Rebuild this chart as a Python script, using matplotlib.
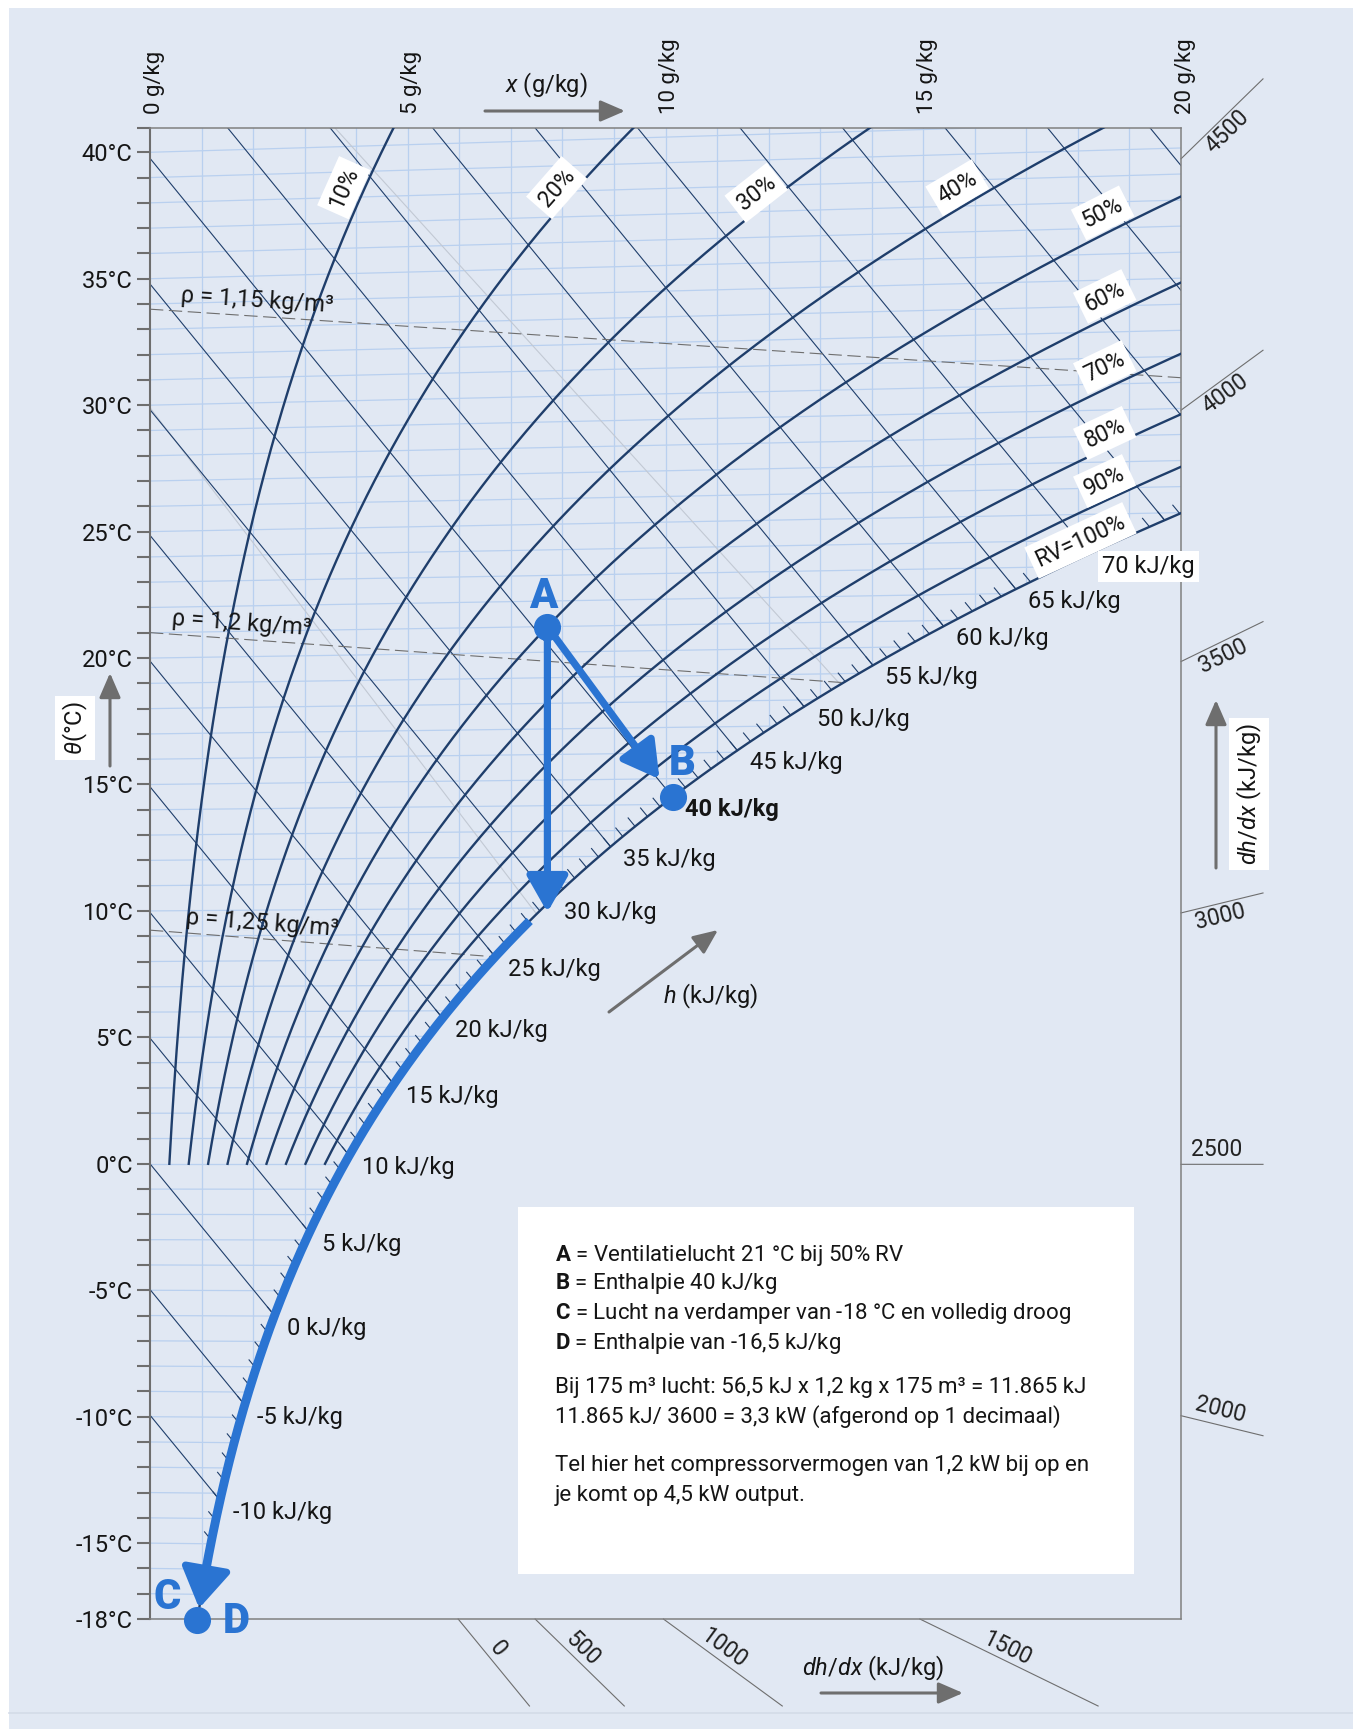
import numpy as np
import matplotlib
matplotlib.use("Agg")
import matplotlib.pyplot as plt
from matplotlib.patches import Rectangle
from matplotlib.lines import Line2D

plt.rcParams['font.family'] = ['Roboto', 'DejaVu Sans']
plt.rcParams['mathtext.fontset'] = 'custom'
plt.rcParams['mathtext.rm'] = 'Roboto'
plt.rcParams['mathtext.it'] = 'Roboto:italic'
plt.rcParams['mathtext.bf'] = 'Roboto:bold'

W, H, DPI = 1353, 1729, 100

# ---------------- chart values ----------------
rh_levels = [10, 20, 30, 40, 50, 60, 70, 80, 90, 100]
rh_texts = ["10%", "20%", "30%", "40%", "50%", "60%", "70%", "80%", "90%", "RV=100%"]
rh_label_x = [3.76, 7.89, 11.76, 15.66, 18.48, 18.52, 18.52, 18.52, 18.52, 18.05]
rh_label_y = [38.6, 38.6, 38.4, 38.6, 37.6, 34.3, 31.5, 28.9, 27.0, 24.65]

enthalpy_lines = [-10, -5, 0, 5, 10, 15, 20, 25, 30, 35, 40, 45,
                  50, 55, 60, 65, 70, 75, 80, 85, 90]
enthalpy_labels = [70, 65, 60, 55, 50, 45, 40, 35, 30, 25, 20, 15, 10, 5, 0, -5, -10]
enthalpy_hatch = list(range(-12, 77))

density_levels = [1.15, 1.20, 1.25]
density_texts = ["ρ = 1,15 kg/m³", "ρ = 1,2 kg/m³", "ρ = 1,25 kg/m³"]
density_label_x = [0.58, 0.41, 0.68]

# faint auxiliary lines: start (x g/kg, level) and slope per g/kg
aux_start_x = [3.59, 0.0]
aux_start_y = [40.96, 29.9]
aux_slope = [-2.245, -2.67]

temp_major = [40, 35, 30, 25, 20, 15, 10, 5, 0, -5, -10, -15, -18]
temp_minor = list(range(-18, 41))
x_ticks = [0, 5, 10, 15, 20]

dhdx_right = [4500, 4000, 3500, 3000, 2500, 2000]
dhdx_right_side = [-1, -1, -1, -1, 1, 1]
dhdx_bottom = [0, 500, 1000, 1500]
bottom_pole = -3.14

theta_A, rh_A = 21.0, 50
h_B = 40.0
theta_C = -18.0
theta_curve_start = 9.5

legend_lines = [
    r"$\mathbf{A}$ = Ventilatielucht 21 °C bij 50% RV",
    r"$\mathbf{B}$ = Enthalpie 40 kJ/kg",
    r"$\mathbf{C}$ = Lucht na verdamper van -18 °C en volledig droog",
    r"$\mathbf{D}$ = Enthalpie van -16,5 kJ/kg",
    "Bij 175 m³ lucht: 56,5 kJ x 1,2 kg x 175 m³ = 11.865 kJ",
    "11.865 kJ/ 3600 = 3,3 kW (afgerond op 1 decimaal)",
    "Tel hier het compressorvermogen van 1,2 kW bij op en",
    "je komt op 4,5 kW output.",
]
legend_y = [1255, 1284, 1313, 1343, 1387, 1417, 1466, 1495]

# ---------------- colours ----------------
BG = '#e1e8f3'
GRID = '#b9d0ef'
NAVY = '#1f3e6b'
BLUE = '#2a74d2'
GRAY = '#6e6e6e'
AXG = '#808080'
INK = '#151515'

# ---------------- psychrometrics ----------------
P = 101.325
K = 0.0015


def p_sat(t):
    return 0.6112 * np.exp(17.62 * t / (243.12 + t))


def x_of(t, phi):
    ps = phi * p_sat(t)
    return 622.0 * ps / (P - ps)


def h_of(t, x):
    return 1.006 * t + x * (2.501 + 0.00186 * t)


def t_of_hx(h, x):
    return (h - 2.501 * x) / (1.006 + 0.00186 * x)


def Y(t, x):
    return t * (1 + K * x)


tt = np.linspace(-30, 50, 8001)
xs_sat = x_of(tt, 1.0)
hs_sat = h_of(tt, xs_sat)


def sat_t_from_h(h):
    return np.interp(h, hs_sat, tt)


def dew_t(x):
    return np.interp(x, xs_sat, tt)


# ---------------- figure ----------------
fig = plt.figure(figsize=(W / DPI, H / DPI), dpi=DPI, facecolor='white')
fig.add_artist(Rectangle((9 / W, 0), 1, (H - 8) / H, transform=fig.transFigure,
                         facecolor=BG, edgecolor='none', zorder=-10))
fig.add_artist(Line2D([9 / W, 1], [(H - 1713) / H] * 2, transform=fig.transFigure,
                      color='#d3dbe7', lw=1.2, zorder=-9))

L, R, T, B = 150, 1181, 128, 1619
ax = fig.add_axes([L / W, (H - B) / H, (R - L) / W, (B - T) / H])
YTOP = 40.96
ax.set_xlim(0, 20)
ax.set_ylim(-18, YTOP)
ax.patch.set_visible(False)

for side in ['top', 'right', 'bottom']:
    ax.spines[side].set_color(AXG)
    ax.spines[side].set_linewidth(1.1)
ax.spines['left'].set_color(GRAY)
ax.spines['left'].set_linewidth(1.5)

ax.set_xticks([])
ax.set_yticks(temp_major)
ax.set_yticklabels([f"{t}°C" for t in temp_major], fontsize=17, color=INK)
ax.set_yticks(temp_minor + [YTOP], minor=True)
ax.tick_params(axis='y', which='both', direction='out', length=9.5, width=1.5,
               color=GRAY, pad=3)

# grid: isotherms and vertical humidity lines (only in unsaturated region)
for t in range(-18, 42):
    xe = min(20.0, float(x_of(t, 1.0)))
    xx = np.linspace(0, xe, 60)
    ax.plot(xx, Y(t, xx), color=GRID, lw=0.9, zorder=1)
for k in range(1, 20):
    td = dew_t(k)
    ax.plot([k, k], [Y(td, k), YTOP + 1], color=GRID, lw=0.9, zorder=1)

# faint auxiliary lines ending on the saturation curve
for x0, y0, m in zip(aux_start_x, aux_start_y, aux_slope):
    xx = np.linspace(x0, 20, 800)
    yy = y0 + m * (xx - x0)
    tsat = dew_t(xx)
    ok = yy >= Y(tsat, xx)
    ax.plot(xx[ok], yy[ok], color='#c2c9d4', lw=0.8, zorder=1.5)

# enthalpy lines
for h in enthalpy_lines:
    ts = sat_t_from_h(h)
    xe = float(x_of(ts, 1.0))
    xx = np.linspace(0, xe, 120)
    ax.plot(xx, Y(t_of_hx(h, xx), xx), color=NAVY, lw=0.8, zorder=2)

# hatch marks along saturation
for h in enthalpy_hatch:
    ts = sat_t_from_h(h)
    xe = float(x_of(ts, 1.0))
    xx = np.array([xe - 0.135, xe])
    ax.plot(xx, Y(t_of_hx(h, xx), xx), color=NAVY, lw=0.8, zorder=2)

# density lines
Rd = 287.05
xg = np.linspace(0, 20, 600)
for rho, txt, lx in zip(density_levels, density_texts, density_label_x):
    Tc = P * 1000 * (1 + xg / 1000) / (Rd * rho * (1 + 1.608 * xg / 1000)) - 273.15
    ok = Tc >= dew_t(xg)
    xd, yd = xg[ok], Y(Tc[ok], xg[ok])
    ax.plot(xd, yd, color=GRAY, lw=0.8, ls=(0, (12, 5)), zorder=2)
    ly = np.interp(lx, xd, yd)
    p0 = ax.transData.transform((xd[0], yd[0]))
    p1 = ax.transData.transform((xd[40], yd[40]))
    ang = np.degrees(np.arctan2(p1[1] - p0[1], p1[0] - p0[0]))
    ax.annotate(txt, xy=(lx, ly), xytext=(0, 3), textcoords='offset points',
                ha='left', va='bottom', fontsize=17, rotation=ang,
                rotation_mode='anchor', color=INK, zorder=4)

# relative humidity curves
curves = {}
for phi in rh_levels:
    t0 = 0.0 if phi < 100 else -18.0
    t = np.linspace(t0, 48, 800)
    x = x_of(t, phi / 100)
    yy = Y(t, x)
    curves[phi] = (x, yy)
    ax.plot(x, yy, color=NAVY, lw=1.7, zorder=3)

for phi, txt, lx, ly in zip(rh_levels, rh_texts, rh_label_x, rh_label_y):
    x, yy = curves[phi]
    pts = ax.transData.transform(np.column_stack([x, yy]))
    c = ax.transData.transform((lx, ly))
    j = int(np.argmin(np.hypot(pts[:, 0] - c[0], pts[:, 1] - c[1])))
    j0, j1 = max(j - 4, 0), min(j + 4, len(x) - 1)
    ang = np.degrees(np.arctan2(pts[j1, 1] - pts[j0, 1], pts[j1, 0] - pts[j0, 0]))
    ax.text(lx, ly, txt, fontsize=16.5, rotation=ang, rotation_mode='anchor',
            ha='center', va='center', color=INK, zorder=6,
            bbox=dict(boxstyle='square,pad=0.25', fc='white', ec='none'))

# enthalpy labels along saturation
for h in enthalpy_labels:
    ts = sat_t_from_h(h)
    xe = float(x_of(ts, 1.0))
    kw = dict(fontsize=17, color=INK, ha='left', va='center', zorder=6)
    if h == 40:
        kw['fontweight'] = 'bold'
    if h == 70:
        kw['bbox'] = dict(boxstyle='square,pad=0.18', fc='white', ec='none')
    ax.annotate(f"{h} kJ/kg", xy=(xe, Y(ts, xe)), xytext=(9.0, -9.0),
                textcoords='offset points', **kw)

# top humidity labels
for xv in x_ticks:
    ax.annotate(f"{xv} g/kg", xy=(xv, 1), xycoords=('data', 'axes fraction'),
                xytext=(3, 10), textcoords='offset points', rotation=90,
                ha='center', va='bottom', fontsize=16, color=INK,
                annotation_clip=False)

# dh/dx protractor
pxx = (R - L) / 20.0
pxy = (B - T) / (YTOP + 18)
for s, side in zip(dhdx_right, dhdx_right_side):
    m = (s / 1000 - 2.501) / 1.006
    x0, x1 = 20.0, 20.0 + 82 / pxx
    ax.plot([x0, x1], [m * x0, m * x1], color=GRAY, lw=0.8, clip_on=False)
    vx, vy = pxx, m * pxy
    nrm = np.hypot(vx, vy)
    ux, uy = vx / nrm, vy / nrm
    ang = np.degrees(np.arctan2(vy, vx))
    off = 15 if side > 0 else 13
    ox = -uy * off * side - 5 * ux
    oy = ux * off * side - 5 * uy
    xm = (x0 + x1) / 2
    ax.annotate(f"{s}", xy=(xm, m * xm), xytext=(ox * 0.72, oy * 0.72),
                textcoords='offset points', rotation=ang, rotation_mode='anchor',
                ha='center', va='center', fontsize=16.5, color='#222222',
                annotation_clip=False)

for s in dhdx_bottom:
    m = (s / 1000 - 2.501) / 1.006
    yb0, yb1 = -18.0, -18.0 - 87 / pxy
    x0, x1 = (yb0 - bottom_pole) / m, (yb1 - bottom_pole) / m
    ax.plot([x0, x1], [yb0, yb1], color=GRAY, lw=0.8, clip_on=False)
    vx, vy = pxx, m * pxy
    nrm = np.hypot(vx, vy)
    ux, uy = vx / nrm, vy / nrm
    ang = np.degrees(np.arctan2(vy, vx))
    ox = -uy * 12 - 8 * ux
    oy = ux * 12 - 8 * uy
    ax.annotate(f"{s}", xy=((x0 + x1) / 2, (yb0 + yb1) / 2),
                xytext=(ox * 0.72, oy * 0.72), textcoords='offset points',
                rotation=ang, rotation_mode='anchor', ha='center', va='center',
                fontsize=16.5, color='#222222', annotation_clip=False)

# process: A -> B, A -> dew point, saturation down to C/D
xA = float(x_of(theta_A, rh_A / 100))
YA = Y(theta_A, xA)
tB = float(sat_t_from_h(h_B))
xB = float(x_of(tB, 1.0))
YB = Y(tB, xB)
tdew = float(dew_t(xA))
Ydew = Y(tdew, xA)
xD = float(x_of(theta_C, 1.0))
YD = Y(theta_C, xD)

ax.annotate('', xy=(xB, YB), xytext=(xA, YA), zorder=8,
            arrowprops=dict(arrowstyle='-|>,head_length=2.2,head_width=1.25',
                            mutation_scale=10, color=BLUE, lw=5.2,
                            shrinkA=0, shrinkB=16))
ax.annotate('', xy=(xA, Ydew - 0.35), xytext=(xA, YA), zorder=8,
            arrowprops=dict(arrowstyle='-|>,head_length=2.2,head_width=1.25',
                            mutation_scale=10, color=BLUE, lw=5.2,
                            shrinkA=0, shrinkB=0))

tc = np.linspace(theta_curve_start, -16.3, 300)
xc = x_of(tc, 1.0)
ax.plot(xc, Y(tc, xc), color=BLUE, lw=6.4, zorder=8, solid_capstyle='butt')
t_h0, t_h1 = -16.0, -17.55
ax.annotate('', xy=(float(x_of(t_h1, 1.0)), Y(t_h1, float(x_of(t_h1, 1.0)))),
            xytext=(float(x_of(t_h0, 1.0)), Y(t_h0, float(x_of(t_h0, 1.0)))),
            zorder=8, annotation_clip=False,
            arrowprops=dict(arrowstyle='-|>,head_length=2.4,head_width=1.5',
                            mutation_scale=10, color=BLUE, lw=5.2,
                            shrinkA=0, shrinkB=0))

ax.plot([xA, xB, xD], [YA, YB, YD], 'o', ms=18.5, color=BLUE, zorder=9, clip_on=False)

lab = dict(fontsize=30, fontweight='heavy', color=BLUE, ha='center', va='center',
           textcoords='offset points', annotation_clip=False, zorder=9)
ax.annotate('A', xy=(xA, YA), xytext=(-3, 22), **lab)
ax.annotate('B', xy=(xB, YB), xytext=(7, 24), **lab)
ax.annotate('C', xy=(xD, YD), xytext=(-22, 16), **lab)
ax.annotate('D', xy=(xD, YD), xytext=(28, -1), **lab)

# ---------------- overlay in pixel coordinates ----------------
ov = fig.add_axes([0, 0, 1, 1], zorder=5)
ov.set_xlim(0, W)
ov.set_ylim(H, 0)
ov.axis('off')

arr = dict(arrowstyle='-|>,head_length=1.5,head_width=0.65', mutation_scale=10,
           color=GRAY, lw=2.2, shrinkA=0, shrinkB=0)
ov.annotate('', xy=(625, 111), xytext=(485, 111), arrowprops=arr)
ov.annotate('', xy=(110, 673), xytext=(110, 766), arrowprops=arr)
ov.annotate('', xy=(1216, 700), xytext=(1216, 868), arrowprops=arr)
ov.annotate('', xy=(963, 1693), xytext=(821, 1693), arrowprops=arr)
ov.annotate('', xy=(718, 930), xytext=(609, 1012), arrowprops=arr)

ov.text(546, 85, r"$x$ (g/kg)", fontsize=17, ha='center', va='center', color=INK)
ov.text(711, 996, r"$h$ (kJ/kg)", fontsize=17, ha='center', va='center', color=INK)
ov.text(873, 1668, r"$dh/dx$ (kJ/kg)", fontsize=17, ha='center', va='center', color=INK)
ov.text(1249, 794, r"$dh/dx$ (kJ/kg)", fontsize=17, ha='center', va='center',
        rotation=90, color=INK,
        bbox=dict(boxstyle='square,pad=0.22', fc='white', ec='none'))
ov.text(75, 728, r"$\theta$(°C)", fontsize=17, ha='center', va='center',
        rotation=90, color=INK,
        bbox=dict(boxstyle='square,pad=0.22', fc='white', ec='none'))

# explanation box
ov.add_patch(Rectangle((518, 1207), 616, 367, facecolor='white', edgecolor='none'))
for txt, yy in zip(legend_lines, legend_y):
    ov.text(555, yy, txt, fontsize=16, ha='left', va='center', color=INK)

fig.savefig('out.png', dpi=DPI, facecolor=fig.get_facecolor())
